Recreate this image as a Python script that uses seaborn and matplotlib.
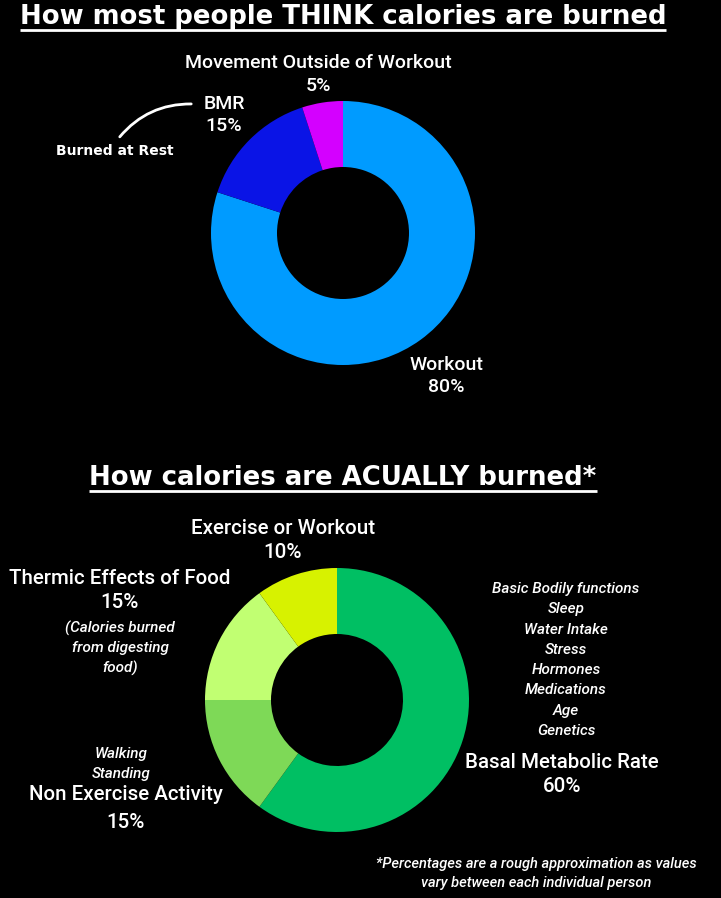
import matplotlib
matplotlib.use("Agg")
import matplotlib.pyplot as plt
import seaborn as sns

# ---------------- Data ----------------
think_labels = ["Workout", "BMR", "Movement Outside of Workout"]
think_values = [80, 15, 5]
think_colors = ["#009BFF", "#0A14E6", "#D400FF"]

actual_labels = ["Basal Metabolic Rate", "Non Exercise Activity",
                 "Thermic Effects of Food", "Exercise or Workout"]
actual_values = [60, 15, 15, 10]
actual_colors = ["#00BF63", "#7ED957", "#C1FF72", "#D7F200"]

bmr_factors = ["Basic Bodily functions", "Sleep", "Water Intake", "Stress",
               "Hormones", "Medications", "Age", "Genetics"]
neat_examples = ["Walking", "Standing"]
tef_note = ["(Calories burned", "from digesting", "food)"]
footnote = ["*Percentages are a rough approximation as values",
            "vary between each individual person"]

sns.set_theme(style="dark")
plt.rcParams["font.family"] = ["Roboto", "DejaVu Sans"]

W, H = 721, 898
fig = plt.figure(figsize=(W / 100, H / 100), dpi=100, facecolor="black")

# overlay axes in pixel coords for the text
tx = fig.add_axes([0, 0, 1, 1])
tx.set_xlim(0, W); tx.set_ylim(H, 0)
tx.axis("off")
tx.set_facecolor("none")


def donut(cx, cy, r, values, colors):
    ax = fig.add_axes([(cx - r) / W, 1 - (cy + r) / H, 2 * r / W, 2 * r / H])
    ax.pie(values, colors=colors, startangle=90, counterclock=False,
           wedgeprops=dict(width=0.5, linewidth=0), radius=1)
    ax.set_xlim(-1, 1); ax.set_ylim(-1, 1)
    ax.set_aspect("equal")
    ax.axis("off")
    return ax


donut(343, 233, 132, think_values, think_colors)
donut(337, 700, 132, actual_values, actual_colors)

WHITE = "white"
lab_top = dict(color=WHITE, ha="center", va="center", fontsize=14, fontweight="medium")
lab = dict(color=WHITE, ha="center", va="center", fontsize=14.8, fontweight="medium")
ital = dict(color=WHITE, ha="center", va="center", fontsize=11, style="italic",
            fontweight="medium")
heavy = ["DejaVu Sans"]

titles = []
titles.append(tx.text(343, 17, "How most people THINK calories are burned", color=WHITE,
                      ha="center", va="center", fontsize=18.7, fontweight="bold",
                      family=heavy))
titles.append(tx.text(343, 478, "How calories are ACUALLY burned*", color=WHITE,
                      ha="center", va="center", fontsize=18.7, fontweight="bold",
                      family=heavy))

# top chart labels
tx.text(318, 63, think_labels[2], **lab_top)
tx.text(318, 86, f"{think_values[2]}%", **lab_top)
tx.text(224, 104, think_labels[1], **lab_top)
tx.text(224, 126, f"{think_values[1]}%", **lab_top)
tx.text(446, 365, think_labels[0], **lab_top)
tx.text(446, 387, f"{think_values[0]}%", **lab_top)
tx.text(115, 151, "Burned at Rest", color=WHITE, ha="center", va="center",
        fontsize=10, fontweight="bold", family=heavy)
tx.annotate("", xy=(118, 139), xytext=(194, 104),
            arrowprops=dict(arrowstyle="-", color=WHITE, lw=2,
                            connectionstyle="arc3,rad=0.25"))

# bottom chart labels
tx.text(283, 528, actual_labels[3], **lab)
tx.text(283, 552, f"{actual_values[3]}%", **lab)
tx.text(120, 579, actual_labels[2], **lab)
tx.text(120, 603, f"{actual_values[2]}%", **lab)
for i, s in enumerate(tef_note):
    tx.text(120, 628 + i * 20, s, **ital)
for i, s in enumerate(bmr_factors):
    tx.text(566, 589 + i * 20.3, s, **ital)
tx.text(562, 763, actual_labels[0], **lab)
tx.text(562, 786, f"{actual_values[0]}%", **lab)
for i, s in enumerate(neat_examples):
    tx.text(121, 754 + i * 20, s, **ital)
tx.text(126, 795, actual_labels[1], **lab)
tx.text(126, 823, f"{actual_values[1]}%", **lab)
for i, s in enumerate(footnote):
    tx.text(536, 864 + i * 19, s, color=WHITE, ha="center", va="center",
            fontsize=10.5, style="italic", fontweight="medium")

# underline the titles
fig.canvas.draw()
inv = tx.transData.inverted()
for t in titles:
    bb = t.get_window_extent()
    (x0, y0), (x1, y1) = inv.transform([(bb.x0, bb.y0), (bb.x1, bb.y1)])
    tx.plot([x0, x1], [y0, y0], color=WHITE, lw=2, solid_capstyle="butt")

fig.savefig("out.png", dpi=100, facecolor="black")
